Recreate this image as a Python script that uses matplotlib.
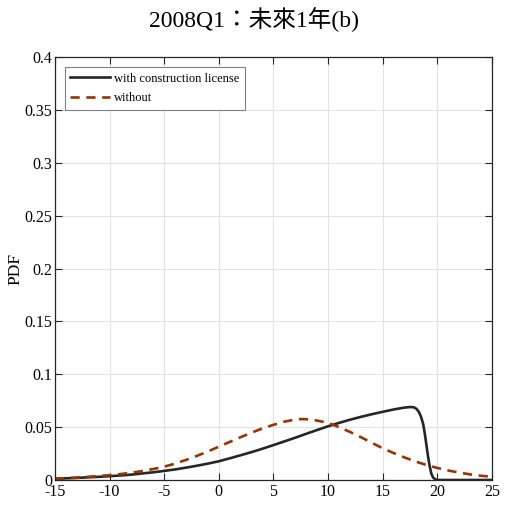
import matplotlib
matplotlib.use("Agg")
import matplotlib.pyplot as plt

plt.rcParams['font.family'] = ['Liberation Serif', 'Noto Sans CJK TC']
plt.rcParams['axes.unicode_minus'] = False

# density estimates read over the forecast horizon
x_with = [-15, -14, -13, -12, -11, -10, -9, -8, -7, -6, -5, -4, -3, -2, -1,
          0, 1, 2, 3, 4, 5, 6, 7, 8, 9, 10, 11, 12, 13, 14, 15, 16, 17, 17.5,
          17.85, 18.1, 18.3, 18.5, 18.7, 18.85, 19.0, 19.15, 19.3, 19.45, 19.6,
          19.8, 20, 21, 22, 23, 24, 25]
pdf_with = [0.0012, 0.0016, 0.0020, 0.0025, 0.0030, 0.0036, 0.0043, 0.0051,
            0.0062, 0.0073, 0.0086, 0.0100, 0.0117, 0.0135, 0.0155,
            0.0177, 0.0205, 0.0234, 0.0264, 0.0296, 0.0330, 0.0365, 0.0400,
            0.0437, 0.0473, 0.0508, 0.0540, 0.0570, 0.0597, 0.0622, 0.0645,
            0.0667, 0.0685, 0.0690, 0.0688, 0.0672, 0.0645, 0.0600, 0.0530,
            0.0440, 0.0330, 0.0220, 0.0130, 0.0060, 0.0025, 0.0006, 0.0,
            0.0, 0.0, 0.0, 0.0, 0.0]

x_without = [-15, -14, -13, -12, -11, -10, -9, -8, -7, -6, -5, -4, -3, -2, -1,
             0, 1, 2, 3, 4, 5, 6, 7, 7.5, 8, 9, 10, 11, 12, 13, 14, 15, 16,
             17, 18, 19, 20, 21, 22, 23, 24, 25]
pdf_without = [0.0012, 0.0017, 0.0023, 0.0030, 0.0038, 0.0045, 0.0056, 0.0069,
               0.0085, 0.0104, 0.0126, 0.0155, 0.0190, 0.0228, 0.0270,
               0.0315, 0.0360, 0.0405, 0.0448, 0.0488, 0.0522, 0.0552, 0.0572,
               0.0576, 0.0575, 0.0562, 0.0540, 0.0500, 0.0455, 0.0405, 0.0352,
               0.0300, 0.0255, 0.0213, 0.0175, 0.0142, 0.0114, 0.0090, 0.0070,
               0.0053, 0.0040, 0.0030]

x_ticks = [-15, -10, -5, 0, 5, 10, 15, 20, 25]
y_ticks = [0, 0.05, 0.1, 0.15, 0.2, 0.25, 0.3, 0.35, 0.4]
y_labels = ['0', '0.05', '0.1', '0.15', '0.2', '0.25', '0.3', '0.35', '0.4']

fig = plt.figure(figsize=(5.08, 5.05), dpi=100)
ax = fig.add_axes([0.108, 0.0495, 0.8605, 0.8375])

ax.plot(x_with, pdf_with, color='#262626', lw=1.9, label='with construction license')
ax.plot(x_without, pdf_without, color='#993300', lw=1.9, ls=(0, (3.5, 2.5)),
        label='without')

ax.set_xlim(-15, 25)
ax.set_ylim(0, 0.4)
ax.set_xticks(x_ticks)
ax.set_yticks(y_ticks)
ax.set_yticklabels(y_labels)
ax.tick_params(direction='in', top=True, right=True, length=5, width=0.8,
               labelsize=11.5, colors='#262626', labelcolor='black', pad=2)
ax.tick_params(axis='x', pad=3)
ax.grid(True, color='#e3e3e3', lw=0.8)
for sp in ax.spines.values():
    sp.set_color('#262626')
    sp.set_linewidth(0.9)

ax.set_ylabel('PDF', fontsize=12.5)
ax.yaxis.set_label_coords(-0.073, 0.5)
fig.suptitle('2008Q1：未來1年(b)', fontsize=17, y=0.985)

leg = ax.legend(loc='upper left', fontsize=9, fancybox=False, framealpha=1,
                edgecolor='#808080', borderaxespad=0.8, handlelength=3.2,
                handletextpad=0.3, borderpad=0.45, labelspacing=0.6)
leg.get_frame().set_linewidth(0.8)

fig.savefig('out.png', dpi=100)
